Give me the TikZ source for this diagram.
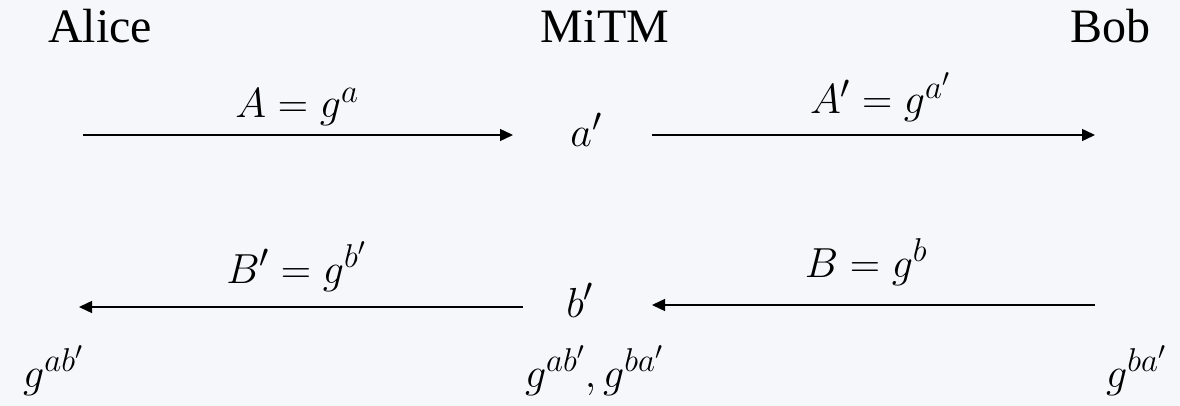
\documentclass[tikz,border=0pt]{standalone}
\usepackage{fix-cm}
\usepackage{fontspec}
\setmainfont{Liberation Serif}
\DeclareMathSizes{42}{42}{33}{25}
\usetikzlibrary{arrows.meta}
\definecolor{bgc}{RGB}{245,247,250}
\tikzset{
  who/.style={inner sep=0pt, anchor=base, font=\fontsize{48}{58}\selectfont},
  mth/.style={inner sep=0pt, anchor=base, font=\fontsize{42}{50}\selectfont},
  msg/.style={line width=1.4pt, -{Triangle[length=13pt,width=12pt]}}
}
\begin{document}
\begin{tikzpicture}[x=1pt,y=-1pt]
  \fill[bgc] (0,0) rectangle (1180,406);
  \useasboundingbox (0,0) rectangle (1180,406);
  % parties
  \node[who] (alice) at (100,43) {Alice};
  \node[who] (mitm)  at (605,43) {MiTM};
  \node[who] (bob)   at (1110,43) {Bob};
  % MiTM secrets
  \node[mth] (ap) at (586,147) {$a'$};
  \node[mth] (bp) at (580,317) {$b'$};
  % message labels
  \node[mth] (lA)  at (297,118) {$A = g^{a}$};
  \node[mth] (lAp) at (880,114) {$A' = g^{a'}$};
  \node[mth] (lBp) at (296,283) {$B' = g^{b'}$};
  \node[mth] (lB)  at (866,277) {$B = g^{b}$};
  % results
  \node[mth] (kA) at (53,387)   {$g^{ab'}$};
  \node[mth] (kM) at (594,387)  {$g^{ab'}, g^{ba'}$};
  \node[mth] (kB) at (1136,387) {$g^{ba'}$};
  % arrow end points
  \coordinate (t1s) at (83,135);
  \coordinate (t1e) at (513,135);
  \coordinate (t2s) at (652,135);
  \coordinate (t2e) at (1095,135);
  \coordinate (b1s) at (523,307);
  \coordinate (b1e) at (79,307);
  \coordinate (b2s) at (1095,305);
  \coordinate (b2e) at (652,305);
  \draw[msg] (t1s) -- (t1e);
  \draw[msg] (t2s) -- (t2e);
  \draw[msg] (b1s) -- (b1e);
  \draw[msg] (b2s) -- (b2e);
\end{tikzpicture}
\end{document}
